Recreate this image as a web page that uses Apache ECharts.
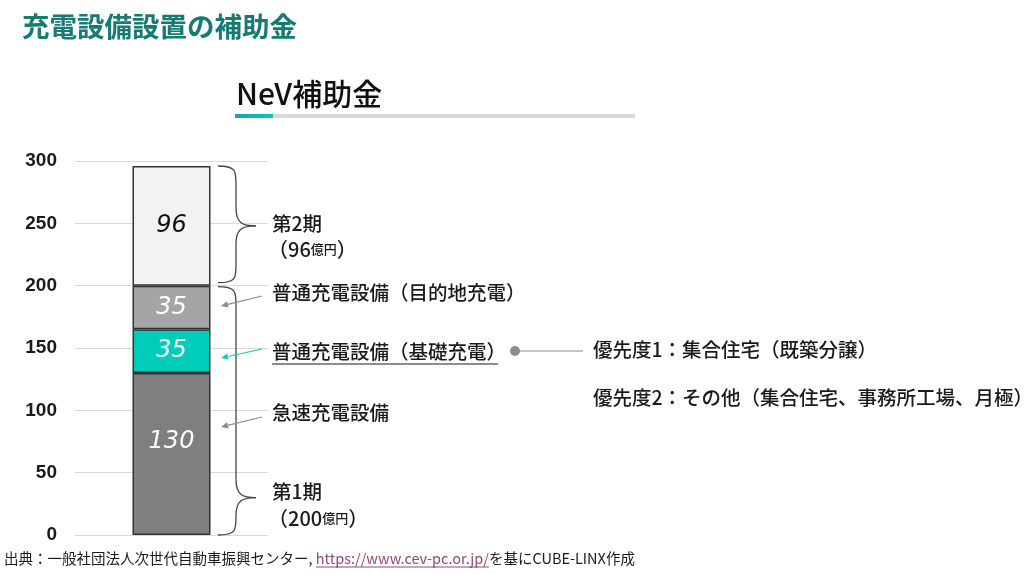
<!DOCTYPE html>
<html><head><meta charset="utf-8">
<script src="https://cdn.jsdelivr.net/npm/echarts@6/dist/echarts.min.js"></script>
<style>html,body{margin:0;padding:0;background:#fff}#c{width:1024px;height:574px}</style>
</head><body><div id="c"></div>
<script>
const categories = ['NeV補助金'];
const segNames = ['急速充電設備', '普通充電設備（基礎充電）', '普通充電設備（目的地充電）', '第2期'];
const segValues = [130, 35, 35, 96];
const segColors = ['#7F7F7F', '#00CDB9', '#A5A5A5', '#F2F2F2'];
const segLabelColors = ['#ffffff', '#ffffff', '#ffffff', '#111111'];
const yTicks = [0, 50, 100, 150, 200, 250, 300];

const FONT = '"Noto Sans CJK JP", "Noto Sans", sans-serif';
const chart = echarts.init(document.getElementById('c'), null, {renderer: 'canvas'});

const series = segValues.map((v, i) => ({
  name: segNames[i], type: 'bar', stack: 'total', barWidth: 78,
  data: [v],
  itemStyle: {color: segColors[i], borderColor: '#333333', borderWidth: 1.5},
  label: {show: true, position: 'inside', formatter: '{c}', color: segLabelColors[i],
    offset: i === 0 ? [0, -12] : [0, 0],
    fontStyle: 'italic', fontSize: 24, fontFamily: '"DejaVu Sans", sans-serif'},
  emphasis: {disabled: true}, animation: false
}));

chart.setOption({
  animation: false,
  grid: {left: 75, right: 756, top: 161, bottom: 39, containLabel: false},
  xAxis: {type: 'category', data: categories, show: false},
  yAxis: {type: 'value', min: yTicks[0], max: yTicks[yTicks.length - 1], interval: 50,
    axisLine: {show: false}, axisTick: {show: false},
    axisLabel: {margin: 18, color: '#1a1a1a', fontWeight: 'bold', fontSize: 19, fontFamily: '"Liberation Sans", Arial, sans-serif'},
    splitLine: {lineStyle: {color: '#D9D9D9', width: 1}}},
  series: series
});

function py(v) { return chart.convertToPixel({yAxisIndex: 0}, v); }
const total1 = segValues[0] + segValues[1] + segValues[2];
const total2 = total1 + segValues[3];
const mctx = document.createElement('canvas').getContext('2d');
function tw(text, size, weight) { mctx.font = (weight || 'normal') + ' ' + size + 'px ' + FONT; return mctx.measureText(text).width; }

const BR = {stroke: '#444', lineWidth: 1.3, fill: null};
function brace(y1, y2, ym) {
  const x0 = 218, xv = 236, xt = 256, r = 18;
  return [
    {type: 'bezierCurve', shape: {x1: x0, y1: y1, cpx1: xv, cpy1: y1, cpx2: xv, cpy2: y1 + 5, x2: xv, y2: y1 + r}, style: BR, silent: true},
    {type: 'line', shape: {x1: xv, y1: y1 + r, x2: xv, y2: ym - r}, style: BR, silent: true},
    {type: 'bezierCurve', shape: {x1: xv, y1: ym - r, cpx1: xv, cpy1: ym - 3, cpx2: xv + 6, cpy2: ym, x2: xt, y2: ym}, style: BR, silent: true},
    {type: 'bezierCurve', shape: {x1: xt, y1: ym, cpx1: xv + 6, cpy1: ym, cpx2: xv, cpy2: ym + 3, x2: xv, y2: ym + r}, style: BR, silent: true},
    {type: 'line', shape: {x1: xv, y1: ym + r, x2: xv, y2: y2 - r}, style: BR, silent: true},
    {type: 'bezierCurve', shape: {x1: xv, y1: y2 - r, cpx1: xv, cpy1: y2 - 5, cpx2: xv, cpy2: y2, x2: x0, y2: y2}, style: BR, silent: true}
  ];
}
function arrow(x1, y1, x2, y2, color) {
  const ang = Math.atan2(y2 - y1, x2 - x1), L = 7, W = 3.2;
  const bx = x2 - L * Math.cos(ang), by = y2 - L * Math.sin(ang);
  const nx = -Math.sin(ang) * W, ny = Math.cos(ang) * W;
  return [
    {type: 'line', shape: {x1: x1, y1: y1, x2: bx, y2: by}, style: {stroke: color, lineWidth: 1.2}, silent: true},
    {type: 'polygon', shape: {points: [[x2, y2], [bx + nx, by + ny], [bx - nx, by - ny]]}, style: {fill: color}, silent: true}
  ];
}
const TW = 500;
function txt(x, y, text, size, extra) {
  return {type: 'text', x: x, y: y, silent: true,
    style: Object.assign({text: text, fontSize: size, fontFamily: FONT, fontWeight: TW, fill: '#1a1a1a', verticalAlign: 'middle'}, extra || {})};
}
function richAmt(x, y, num) {
  return {type: 'text', x: x, y: y, silent: true, style: {text: '{a|（' + num + '}{b|億円}{a|）}', verticalAlign: 'middle',
    rich: {a: {fontSize: 20, fontFamily: FONT, fontWeight: TW, fill: '#1a1a1a'}, b: {fontSize: 13, fontFamily: FONT, fontWeight: TW, fill: '#1a1a1a'}}}};
}

const g = [];
g.push(txt(22, 27, '充電設備設置の補助金', 27.5, {fill: '#177A73', fontWeight: 'bold'}));
g.push(txt(236, 94, 'NeV補助金', 30, {fill: '#111111'}));
g.push({type: 'rect', shape: {x: 235, y: 114, width: 400, height: 4}, style: {fill: '#D9D9D9'}, silent: true});
g.push({type: 'rect', shape: {x: 235, y: 114, width: 38, height: 4}, silent: true,
  style: {fill: new echarts.graphic.LinearGradient(0, 0, 1, 0, [{offset: 0, color: '#1AA0B8'}, {offset: 1, color: '#00CDB9'}])}});

g.push(...brace(py(total2), py(total1) - 3, py((total1 + total2) / 2)));
g.push(...brace(py(total1) + 1, py(0), py(30)));

g.push(...arrow(262, 296, 221, 306, '#8C8C8C'));
g.push(...arrow(262, 349, 221, 358, '#1FC9B8'));
g.push(...arrow(262, 417, 221, 427, '#8C8C8C'));

const FS = 19.5;
g.push(txt(272, 224, '第2期', FS));
g.push(richAmt(268, 249, '96'));
g.push(txt(272, 293, segNames[2], FS));
g.push(txt(272, 352, segNames[1], FS));
g.push({type: 'line', shape: {x1: 272, y1: 364, x2: 272 + tw(segNames[1], FS, TW) - 8, y2: 364}, style: {stroke: '#1a1a1a', lineWidth: 1.2}, silent: true});
g.push(txt(272, 413, segNames[0], FS));
g.push(txt(272, 492, '第1期', FS));
g.push(richAmt(268, 518, '200'));

g.push({type: 'circle', shape: {cx: 515, cy: 351, r: 5}, style: {fill: '#8C8C8C'}, silent: true});
g.push({type: 'line', shape: {x1: 515, y1: 351, x2: 583, y2: 351}, style: {stroke: '#8C8C8C', lineWidth: 1.2}, silent: true});
g.push(txt(593, 350, '優先度1：集合住宅（既築分譲）', FS));
g.push(txt(593, 398, '優先度2：その他（集合住宅、事務所工場、月極）', FS));

const FT = 14.5;
const src1 = '出典：一般社団法人次世代自動車振興センター, ';
const srcLink = 'https://www.cev-pc.or.jp/';
g.push({type: 'text', x: 4, y: 558, silent: true, style: {
  text: '{t|' + src1 + '}{l|' + srcLink + '}{t|を基にCUBE-LINX作成}',
  verticalAlign: 'middle',
  rich: {t: {fontSize: FT, fontFamily: FONT, fill: '#1a1a1a'},
         l: {fontSize: FT, fontFamily: FONT, fill: '#8E4A78'}}}});
const lx = 4 + tw(src1, FT);
g.push({type: 'line', shape: {x1: lx, y1: 567, x2: lx + tw(srcLink, FT), y2: 567}, style: {stroke: '#8E4A78', lineWidth: 1}, silent: true});

chart.setOption({graphic: {elements: g}});
</script>
</body></html>
